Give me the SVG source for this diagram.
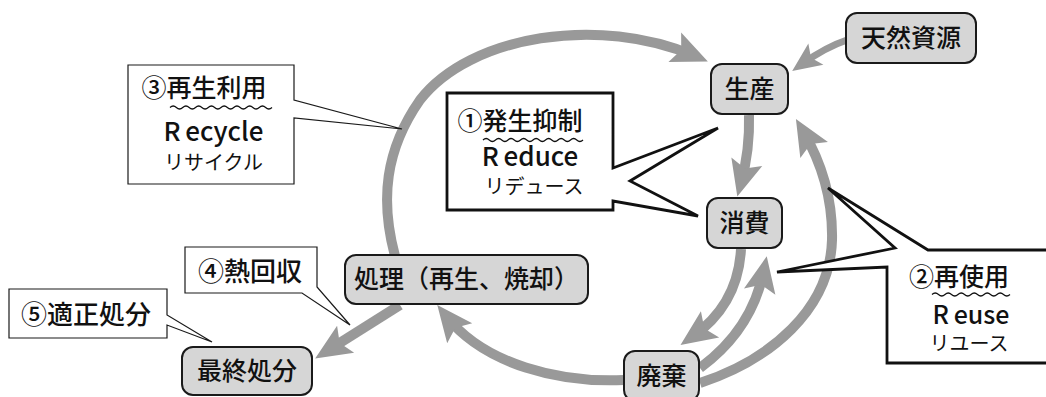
<svg xmlns="http://www.w3.org/2000/svg" width="1046" height="397" viewBox="0 0 1046 397">
<defs>
<style>
text { font-family: "Noto Sans CJK JP", "Noto Sans", sans-serif; fill:#111111; }
.nd rect { fill:#d6d6d6; stroke:#1a1a1a; stroke-width:2; }
.nt { font-size:25px; text-anchor:middle; font-weight:500; }
.arr { fill:none; stroke:#999999; stroke-width:10; }
.arrs { fill:none; stroke:#999999; stroke-width:7; }
.thin { fill:#ffffff; stroke:#1a1a1a; stroke-width:1.2; }
.thick { fill:#ffffff; stroke:#111111; stroke-width:2.8; }
.wave { fill:none; stroke:#111111; stroke-width:1.2; }
.t1 { font-size:25px; text-anchor:middle; font-weight:500; }
.en { font-size:26px; text-anchor:middle; font-weight:500; }
.kt { font-size:20px; text-anchor:middle; }
</style>
<marker id="ah" markerUnits="userSpaceOnUse" markerWidth="44" markerHeight="40" viewBox="-40 -20 44 40" refX="-14" refY="0" orient="auto" overflow="visible">
<path d="M0,0 L-36,-16 L-29,0 L-36,16 Z" fill="#999999"/>
</marker>
<marker id="ahs" markerUnits="userSpaceOnUse" markerWidth="36" markerHeight="32" viewBox="-32 -16 36 32" refX="-12" refY="0" orient="auto" overflow="visible">
<path d="M0,0 L-29,-13 L-23,0 L-29,13 Z" fill="#999999"/>
</marker>
</defs>

<g id="connectors">
<path class="arr" marker-end="url(#ah)" d="M395,256 C380,200 385,150 420,100 C470,35 600,15 695,56"/>
<path class="arrs" marker-end="url(#ahs)" d="M847,40 Q826,47 802,64"/>
<path class="arr" marker-end="url(#ah)" d="M749,115 Q750,150 741,183"/>
<path class="arr" marker-end="url(#ah)" d="M741,249 Q738,305 692,337"/>
<path class="arr" marker-end="url(#ah)" d="M700,368 Q752,330 764,270"/>
<path class="arr" marker-end="url(#ah)" d="M700,383 C770,360 830,310 832,240 C833,195 820,160 803,131"/>
<path class="arr" marker-end="url(#ah)" d="M624,380 C560,383 485,365 446,316"/>
<path class="arr" marker-end="url(#ah)" d="M400,305 L327,351"/>
</g>

<g id="node-tennen" class="nd"><rect x="846" y="13" width="130" height="50" rx="11"/><text class="nt" x="911" y="47">天然資源</text></g>
<g id="node-seisan" class="nd"><rect x="711" y="64" width="77" height="50" rx="11"/><text class="nt" x="749.5" y="98">生産</text></g>
<g id="node-shohi" class="nd"><rect x="707" y="198" width="75" height="50" rx="11"/><text class="nt" x="744.5" y="232">消費</text></g>
<g id="node-haiki" class="nd"><rect x="624" y="351" width="75" height="50" rx="11"/><text class="nt" x="661.5" y="385">廃棄</text></g>
<g id="node-shori" class="nd"><rect x="345" y="255" width="243" height="49" rx="11"/><text class="nt" x="466.5" y="288">処理（再生、焼却）</text></g>
<g id="node-saishu" class="nd"><rect x="182" y="347" width="130" height="48" rx="11"/><text class="nt" x="247" y="380">最終処分</text></g>

<g id="callout-recycle">
<path class="thin" d="M128,65 H294 V100 L402,129 L294,118 V184 H128 Z"/>
<text class="t1" x="204" y="97">③再生利用</text>
<path class="wave" d="M170,107.5 q3.19,-3 6.375,0 t6.375,0 t6.375,0 t6.375,0 t6.375,0 t6.375,0 t6.375,0 t6.375,0 t6.375,0 t6.375,0 t6.375,0 t6.375,0 t6.375,0 t6.375,0 t6.375,0 t6.375,0"/>
<text class="en" x="213.5" y="141" dx="0 5">Recycle</text>
<text class="kt" x="213.5" y="170">リサイクル</text>
</g>

<g id="callout-reduce">
<path class="thick" d="M447,93 H613 V168 L718,128 L630,181 L698,216 L613,201 V210 H447 Z"/>
<text class="t1" x="520" y="130">①発生抑制</text>
<path class="wave" d="M483,140 q3.125,-3 6.25,0 t6.25,0 t6.25,0 t6.25,0 t6.25,0 t6.25,0 t6.25,0 t6.25,0 t6.25,0 t6.25,0 t6.25,0 t6.25,0 t6.25,0 t6.25,0 t6.25,0 t6.25,0"/>
<text class="en" x="530" y="166" dx="0 5">Reduce</text>
<text class="kt" x="534" y="194">リデュース</text>
</g>

<g id="callout-reuse">
<path class="thick" d="M1050,250 H928 L828,188 L895,248 L777,272 L887,267 V363 H1050"/>
<text class="t1" x="959" y="286">②再使用</text>
<path class="wave" d="M932,294.5 q3.25,-3 6.5,0 t6.5,0 t6.5,0 t6.5,0 t6.5,0 t6.5,0 t6.5,0 t6.5,0 t6.5,0 t6.5,0 t6.5,0 t6.5,0"/>
<text class="en" x="971" y="324" dx="0 5" style="font-size:25px">Reuse</text>
<text class="kt" x="969" y="351">リユース</text>
</g>

<g id="callout-netsu">
<path class="thin" d="M185,247 H317 V287 L350,325 L302,293 H185 Z"/>
<text class="t1" x="250" y="281" style="font-size:26px">④熱回収</text>
</g>

<g id="callout-tekisei">
<path class="thin" d="M9,289 H167 V315 L212,342 L167,325 V338 H9 Z"/>
<text class="t1" x="86" y="324" style="font-size:26px">⑤適正処分</text>
</g>
</svg>
